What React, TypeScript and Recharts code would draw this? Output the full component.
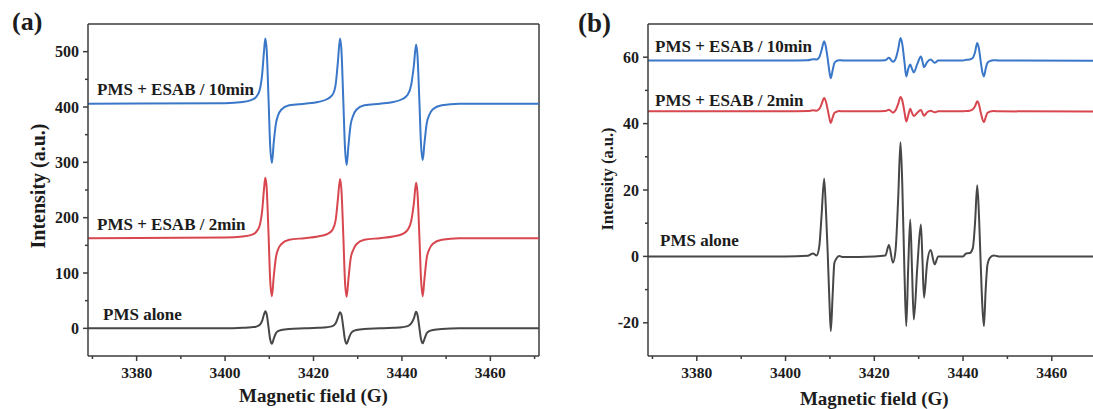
import { Line, LineChart, ReferenceLine, XAxis, YAxis } from "recharts"

// magnetic field grid and intensities
const fieldA = [
  3369, 3400, 3404, 3406, 3407, 3407.8, 3408.4, 3408.8, 3409.1, 3409.4, 3409.85, 3410.2, 3410.6,
  3411, 3411.5, 3412, 3412.7, 3414.5, 3418, 3421, 3423, 3424.3, 3425, 3425.5, 3426, 3426.3,
  3426.75, 3427.1, 3427.5, 3427.9, 3428.4, 3429, 3429.7, 3431.5, 3435, 3438, 3440, 3441.3,
  3442.1, 3442.7, 3443.2, 3443.5, 3443.95, 3444.3, 3444.7, 3445.1, 3445.6, 3446.2, 3447, 3449,
  3453, 3471,
]
const a10min = [
  406, 407, 409, 413, 418, 430, 460, 500, 524, 505, 410, 330, 299, 335, 370, 385, 395, 403, 406,
  409, 414, 422, 440, 480, 524, 505, 410, 330, 295, 330, 368, 385, 395, 403, 406, 409, 414, 422,
  440, 475, 513, 495, 410, 335, 304, 335, 370, 386, 396, 403, 406, 406,
]
const a2min = [
  163, 164, 166, 169, 174, 185, 213, 251, 272, 255, 166, 88, 58, 93, 128, 143, 152, 160, 163, 166,
  170, 178, 195, 232, 270, 252, 166, 88, 57, 89, 126, 142, 152, 160, 163, 166, 170, 178, 194, 226,
  263, 247, 166, 92, 58, 90, 127, 143, 153, 160, 163, 163,
]
const aAlone = [
  0, 0, 1, 2, 3, 6, 14, 25, 31, 26, 1, -20, -28, -19, -9, -5, -3, -1, 0, 1, 2, 4, 9, 19, 29, 25, 1,
  -20, -28, -20, -10, -5, -3, -1, 0, 1, 2, 4, 9, 18, 30, 25, 1, -19, -27, -19, -9, -5, -3, -1, 0, 0,
]

// panel (b)
const fieldB = [
  3369, 3400, 3405, 3406.2, 3407, 3407.6, 3408.1, 3408.7, 3409.1, 3409.5, 3409.9, 3410.2, 3410.6,
  3411, 3411.4, 3412.1, 3413, 3420,
  3422.5, 3423.3, 3424.2, 3424.8, 3425.4, 3425.9, 3426.3, 3426.8, 3427.2, 3427.65, 3428.1, 3428.5,
  3428.9, 3429.7, 3430.5, 3430.85, 3431.2, 3431.9, 3432.7, 3433.6, 3434.4, 3437,
  3440, 3440.7, 3441.5, 3442.2, 3442.7, 3443.2, 3443.6, 3444, 3444.35, 3444.7, 3445.1, 3445.5,
  3446, 3446.9, 3448, 3471,
]
const b10min = [
  59, 59, 59.1, 59.4, 59.3, 60, 62, 64.8, 63, 59.5, 55.5, 53.7, 56, 58.2, 58.8, 59.1, 59, 59,
  59.1, 59.8, 58.6, 59.5, 62.5, 65.8, 64, 58.5, 54.2, 56.5, 57.8, 56.5, 55.4, 58, 60.2, 58.8, 57,
  58.5, 59.3, 58.3, 59, 59,
  59, 59.2, 59.3, 59.8, 61.5, 64.3, 62.5, 58.5, 55.5, 54.2, 56.5, 58.3, 58.8, 59.1, 59, 58.9,
]
const b2min = [
  43.7, 43.7, 43.8, 44, 43.9, 44.4, 45.8, 47.7, 46.6, 44.2, 41.5, 40.2, 41.8, 43.2, 43.5, 43.8,
  43.7, 43.7,
  43.8, 44.2, 43.3, 44, 46, 48, 47, 43.5, 40.6, 42.5, 44.5, 43.2, 42.3, 43.3, 44.1, 43.2, 42.4,
  43.4, 43.9, 43.4, 43.7, 43.7,
  43.7, 43.8, 43.9, 44.3, 45.2, 46.7, 45.7, 43.3, 41.4, 40.4, 41.9, 43.2, 43.6, 43.8, 43.7, 43.6,
]
const bAlone = [
  0, 0, 0.2, 0.9, 0.3, 3, 12, 23.4, 14, 1, -14, -22.5, -12, -2, -0.8, 0.1, -0.2, 0,
  0.3, 3.4, -1.9, 2, 18, 34.4, 22, -5, -21, -3, 11.1, -4, -19, -3, 9.6, -1, -12.4, -2, 1.9, -2.4,
  0, 0,
  0, 0.9, 1, 2.5, 10, 21.4, 12, -3, -15, -21, -10, -2.5, -0.5, 0.3, 0, 0,
]

const fieldTicks = [3370, 3380, 3390, 3400, 3410, 3420, 3430, 3440, 3450, 3460, 3470]
const ticksA = [0, 50, 100, 150, 200, 250, 300, 350, 400, 450, 500]
const ticksB = [-20, -10, 0, 10, 20, 30, 40, 50, 60]

const BLUE = "#3a77c8"
const RED = "#d8474f"
const GREY = "#474747"
const AXIS = "#3c3c3c"
const INK = "#1c1c1c"
const FONT = '"Liberation Serif", "Times New Roman", serif'

const rowsOf = (field: number[], alone: number[], min2: number[], min10: number[]) =>
  field.map((f, i) => ({ field: f, alone: alone[i], min2: min2[i], min10: min10[i] }))

const rowsA = rowsOf(fieldA, aAlone, a2min, a10min)
const rowsB = rowsOf(fieldB, bAlone, b2min, b10min)

function FieldTick({ x, y, payload }: any) {
  const major = payload.value % 20 === 0
  return (
    <g>
      <line x1={x} x2={x} y1={y} y2={y + (major ? 5 : 3)} stroke={AXIS} strokeWidth={1.5} />
      {major && (
        <text x={x} y={y + 22} textAnchor="middle" fontFamily={FONT} fontWeight={700} fontSize={15.5} fill={INK}>
          {payload.value}
        </text>
      )}
    </g>
  )
}

const intensityTick = (step: number, size: number) =>
  function IntensityTick({ x, y, payload }: any) {
    const major = payload.value % step === 0
    return (
      <g>
        <line x1={x} x2={x - (major ? 5 : 3)} y1={y} y2={y} stroke={AXIS} strokeWidth={1.5} />
        {major && (
          <text x={x - 9} y={y} dy="0.35em" textAnchor="end" fontFamily={FONT} fontWeight={700} fontSize={size} fill={INK}>
            {payload.value}
          </text>
        )}
      </g>
    )
  }

const yTitle = (cx: number, cy: number, size: number) =>
  function YTitle({ viewBox }: any) {
    const x = viewBox.x + cx
    return (
      <text x={x} y={cy} dy="0.35em" transform={`rotate(-90 ${x} ${cy})`} textAnchor="middle" fontFamily={FONT} fontWeight={700} fontSize={size} fill={INK}>
        Intensity (a.u.)
      </text>
    )
  }

type PanelProps = {
  rows: any[]
  yDomain: [number, number]
  yTicks: number[]
  step: number
  tickSize: number
  title: (p: any) => any
  xTitleOffset: number
  marginRight: number
}

function Panel({ rows, yDomain, yTicks, step, tickSize, title, xTitleOffset, marginRight }: PanelProps) {
  return (
    <LineChart width={560} height={409} data={rows} margin={{ top: 24, right: marginRight, bottom: 0, left: 0 }}>
      <XAxis
        dataKey="field"
        type="number"
        domain={[3369, 3471]}
        ticks={fieldTicks}
        interval={0}
        allowDataOverflow
        height={53}
        tickSize={0}
        tickMargin={0}
        tickLine={false}
        stroke={AXIS}
        strokeWidth={1.5}
        tick={<FieldTick />}
        label={{
          value: "Magnetic field (G)",
          position: "insideBottom",
          offset: xTitleOffset,
          fontFamily: FONT,
          fontWeight: 700,
          fontSize: 19,
          fill: INK,
        }}
      />
      <YAxis
        type="number"
        domain={yDomain}
        ticks={yTicks}
        interval={0}
        allowDataOverflow
        width={88}
        tickSize={0}
        tickMargin={0}
        tickLine={false}
        stroke={AXIS}
        strokeWidth={1.5}
        tick={intensityTick(step, tickSize)}
        label={title}
      />
      <ReferenceLine y={yDomain[1]} stroke={AXIS} strokeWidth={1.5} />
      <ReferenceLine x={3471} stroke={AXIS} strokeWidth={1.5} />
      <Line dataKey="min10" type="monotone" stroke={BLUE} strokeWidth={2} dot={false} isAnimationActive={false} />
      <Line dataKey="min2" type="monotone" stroke={RED} strokeWidth={2} dot={false} isAnimationActive={false} />
      <Line dataKey="alone" type="monotone" stroke={GREY} strokeWidth={2} dot={false} isAnimationActive={false} />
    </LineChart>
  )
}

const note = (text: string, left: number, top: number, size = 17) => (
  <div
    style={{
      position: "absolute",
      left,
      top,
      fontFamily: FONT,
      fontWeight: 700,
      fontSize: size,
      lineHeight: 1,
      color: INK,
      whiteSpace: "nowrap",
    }}
  >
    {text}
  </div>
)

export default function App() {
  return (
    <div style={{ position: "absolute", left: 0, top: 0, width: 1093, height: 409, overflow: "hidden", background: "#fff" }}>
      <div style={{ position: "absolute", left: 0, top: 0 }}>
        <Panel
          rows={rowsA}
          yDomain={[-50, 550]}
          yTicks={ticksA}
          step={100}
          tickSize={16}
          title={yTitle(38, 186, 20)}
          xTitleOffset={7}
          marginRight={21}
        />
      </div>
      <div style={{ position: "absolute", left: 560, top: 0 }}>
        <Panel
          rows={rowsB}
          yDomain={[-30, 70]}
          yTicks={ticksB}
          step={20}
          tickSize={16}
          title={yTitle(47, 179, 16.5)}
          xTitleOffset={4}
          marginRight={19.4}
        />
      </div>
      {note("(a)", 12, 9, 26)}
      {note("(b)", 578, 10, 27)}
      {note("PMS + ESAB / 10min", 97, 81)}
      {note("PMS + ESAB / 2min", 97, 216)}
      {note("PMS alone", 103, 306)}
      {note("PMS + ESAB / 10min", 655, 38)}
      {note("PMS + ESAB / 2min", 655, 92)}
      {note("PMS alone", 660, 232)}
    </div>
  )
}
